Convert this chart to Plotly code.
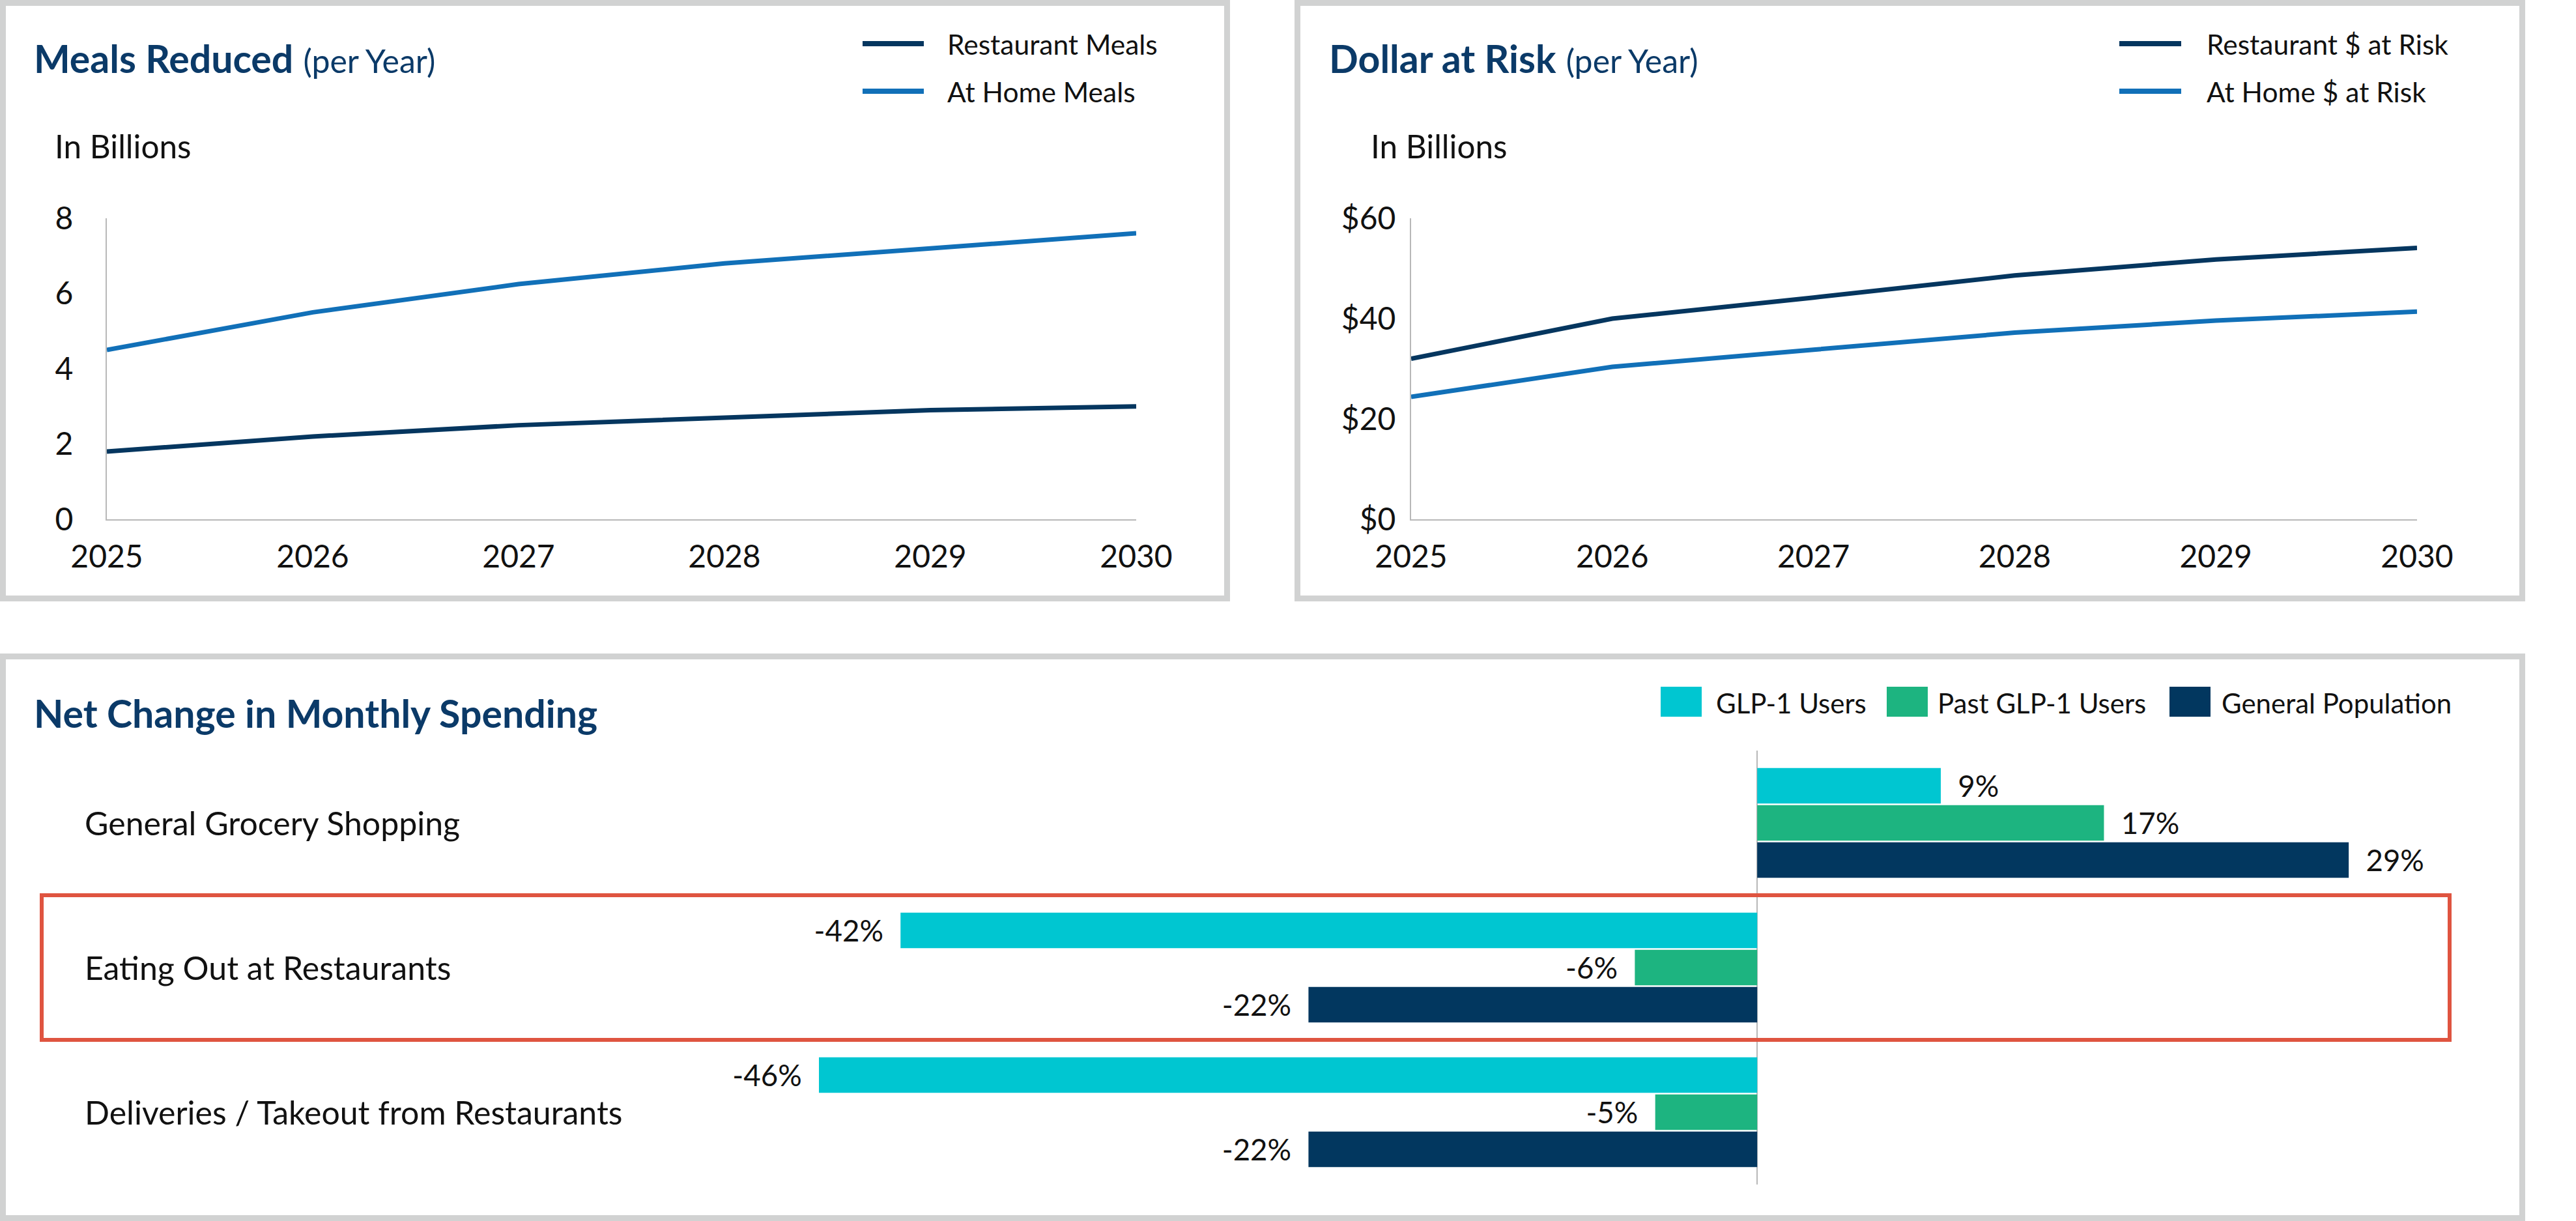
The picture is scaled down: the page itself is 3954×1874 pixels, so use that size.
import plotly.graph_objects as go

# ---------------- data ----------------
years = [2025, 2026, 2027, 2028, 2029, 2030]
restaurant_meals = [1.8, 2.2, 2.5, 2.7, 2.9, 3.0]
at_home_meals = [4.5, 5.5, 6.25, 6.8, 7.2, 7.6]
restaurant_dollars = [32, 40, 44.2, 48.6, 51.8, 54.1]
at_home_dollars = [24.4, 30.4, 33.8, 37.2, 39.6, 41.4]

categories = ["General Grocery Shopping", "Eating Out at Restaurants",
              "Deliveries / Takeout from Restaurants"]
glp1_users = [9, -42, -46]
past_glp1_users = [17, -6, -5]
general_population = [29, -22, -22]

meal_ticks = [0, 2, 4, 6, 8]
meal_tick_labels = ["0", "2", "4", "6", "8"]
dollar_ticks = [0, 20, 40, 60]
dollar_tick_labels = ["$0", "$20", "$40", "$60"]

# ---------------- styling ----------------
W, H = 3954, 1874
FONT = "Lato"
NAVY_TITLE = "#0B3A68"
C_REST = "#05365F"
C_HOME = "#1170B8"
C_GLP = "#00C6D1"
C_PAST = "#1DB480"
C_GEN = "#02375F"
GRID_GRAY = "#B8B8B8"
BORDER = "#D1D2D2"
RED = "#DF5440"


def px(x):
    return x / W


def py(y):
    return 1 - y / H


fig = go.Figure()

# Line chart 1
fig.add_trace(go.Scatter(x=years, y=restaurant_meals, mode="lines", name="Restaurant Meals",
                         line=dict(color=C_REST, width=7), xaxis="x", yaxis="y"))
fig.add_trace(go.Scatter(x=years, y=at_home_meals, mode="lines", name="At Home Meals",
                         line=dict(color=C_HOME, width=7), xaxis="x", yaxis="y"))
# Line chart 2
fig.add_trace(go.Scatter(x=years, y=restaurant_dollars, mode="lines", name="Restaurant $ at Risk",
                         line=dict(color=C_REST, width=7), xaxis="x2", yaxis="y2"))
fig.add_trace(go.Scatter(x=years, y=at_home_dollars, mode="lines", name="At Home $ at Risk",
                         line=dict(color=C_HOME, width=7), xaxis="x2", yaxis="y2"))


def pct_text(vals):
    return [f"  {v}%" if v >= 0 else f"{v}%  " for v in vals]


for name, vals, col in [("GLP-1 Users", glp1_users, C_GLP),
                        ("Past GLP-1 Users", past_glp1_users, C_PAST),
                        ("General Population", general_population, C_GEN)]:
    fig.add_trace(go.Bar(y=categories, x=vals, orientation="h", name=name,
                         marker=dict(color=col, line=dict(width=0)),
                         text=pct_text(vals), textposition="outside",
                         textfont=dict(family=FONT, size=50, color="#111111"),
                         cliponaxis=False, xaxis="x3", yaxis="y3"))

tickfont = dict(family=FONT, size=48, color="#111111")

common_x = dict(showline=True, linecolor=GRID_GRAY, linewidth=2, showgrid=False, zeroline=False,
                ticks="", tickfont=tickfont, tickmode="array", tickvals=years,
                ticktext=[str(y) for y in years], range=[2025, 2030], ticklabelstandoff=14,
                automargin=False)
common_y = dict(showline=True, linecolor=GRID_GRAY, linewidth=2, showgrid=False, zeroline=False,
                ticks="", tickfont=tickfont, tickmode="array", automargin=False)

fig.update_layout(
    width=W, height=H,
    margin=dict(l=0, r=0, t=0, b=0, pad=0, autoexpand=False),
    paper_bgcolor="white", plot_bgcolor="white",
    showlegend=False,
    font=dict(family=FONT, color="#111111"),
    barmode="group", bargap=0.23, bargroupgap=0.04,
    xaxis=dict(domain=[px(164), px(1744)], anchor="y", **common_x),
    yaxis=dict(domain=[py(797), py(335)], anchor="x", range=[0, 8], ticklabelstandoff=40,
               tickvals=meal_ticks, ticktext=meal_tick_labels, **common_y),
    xaxis2=dict(domain=[px(2166), px(3710)], anchor="y2", **common_x),
    yaxis2=dict(domain=[py(797), py(335)], anchor="x2", range=[0, 60], ticklabelstandoff=12,
                tickvals=dollar_ticks, ticktext=dollar_tick_labels, **common_y),
    xaxis3=dict(domain=[px(443), px(3793)], anchor="y3", range=[-72, 35],
                showticklabels=False, showgrid=False, showline=False, automargin=False,
                zeroline=True, zerolinecolor=GRID_GRAY, zerolinewidth=2),
    yaxis3=dict(domain=[py(1818), py(1152)], anchor="x3", type="category",
                categoryorder="array", categoryarray=categories, automargin=False,
                range=[2.5, -0.5], showticklabels=False, showgrid=False,
                showline=False, zeroline=False),
)

shapes = []
# panel borders
for x0, y0, x1, y1 in [(4.5, 4.5, 1883.5, 918.5), (1991.5, 4.5, 3871.5, 918.5),
                       (4.5, 1007.5, 3871.5, 1869.5)]:
    shapes.append(dict(type="rect", xref="paper", yref="paper",
                       x0=px(x0), x1=px(x1), y0=py(y0), y1=py(y1),
                       line=dict(color=BORDER, width=9), fillcolor="rgba(0,0,0,0)"))
# highlight box around "Eating Out at Restaurants"
shapes.append(dict(type="rect", xref="paper", yref="y3",
                   x0=px(64), x1=px(3760), y0=0.5, y1=1.5,
                   line=dict(color=RED, width=6), fillcolor="rgba(0,0,0,0)"))

annotations = []
# line-chart legends
for (lx0, lx1, tx), items in [((1324, 1418, 1452), [("Restaurant Meals", C_REST), ("At Home Meals", C_HOME)]),
                              ((3253, 3348, 3385), [("Restaurant $ at Risk", C_REST), ("At Home $ at Risk", C_HOME)])]:
    for (label, col), yy in zip(items, [67, 140]):
        shapes.append(dict(type="line", xref="paper", yref="paper",
                           x0=px(lx0), x1=px(lx1), y0=py(yy), y1=py(yy),
                           line=dict(color=col, width=8)))
        annotations.append(dict(xref="paper", yref="paper", x=px(tx), y=py(yy + 1),
                                xanchor="left", yanchor="middle", showarrow=False,
                                text=label, font=dict(family=FONT, size=42.5, color="#111111")))

# bar legend
for label, col, sx, tx in [("GLP-1 Users", C_GLP, 2549, 2632),
                           ("Past GLP-1 Users", C_PAST, 2896, 2972),
                           ("General Population", C_GEN, 3330, 3408)]:
    shapes.append(dict(type="rect", xref="paper", yref="paper",
                       x0=px(sx), x1=px(sx + 63), y0=py(1100), y1=py(1054),
                       line=dict(width=0), fillcolor=col))
    annotations.append(dict(xref="paper", yref="paper", x=px(tx), y=py(1079),
                            xanchor="left", yanchor="middle", showarrow=False,
                            text=label, font=dict(family=FONT, size=42, color="#111111")))

# titles
for x, y, main in [(50, 90, "Meals Reduced"), (2038, 90, "Dollar at Risk"),
                   (50, 1094, "Net Change in Monthly Spending")]:
    sub = " <span style='font-size:50px;font-weight:normal'>(per Year)</span>" if main != "Net Change in Monthly Spending" else ""
    annotations.append(dict(xref="paper", yref="paper", x=px(x), y=py(y),
                            xanchor="left", yanchor="middle", showarrow=False,
                            text=f"<b>{main}</b>{sub}",
                            font=dict(family=FONT, size=59, color=NAVY_TITLE)))

# "In Billions"
for x in [82, 2102]:
    annotations.append(dict(xref="paper", yref="paper", x=px(x), y=py(224),
                            xanchor="left", yanchor="middle", showarrow=False,
                            text="In Billions", font=dict(family=FONT, size=49.5, color="#111111")))

# category labels
for cat in categories:
    annotations.append(dict(xref="paper", yref="y3", x=px(128), y=cat,
                            xanchor="left", yanchor="middle", showarrow=False,
                            text=cat, font=dict(family=FONT, size=50, color="#111111")))

fig.update_layout(shapes=shapes, annotations=annotations)

fig.write_html("out.html")
